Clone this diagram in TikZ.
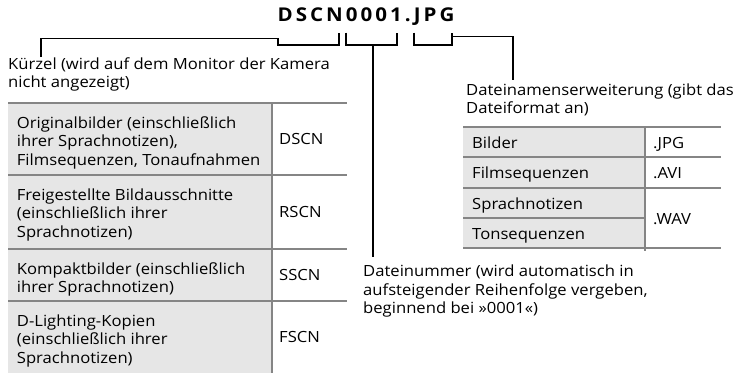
\documentclass[tikz,border=0pt]{standalone}
\usepackage{fontspec}
\setmainfont{Open Sans}[FakeStretch=1.08]
\newcommand\mylines[1]{\vtop{\baselineskip=18.5pt\lineskiplimit=-20pt\lineskip=0pt\halign{##\hfil\cr#1\crcr}}}
\definecolor{cellgray}{HTML}{E6E6E6}
\definecolor{rulegray}{HTML}{858585}
\begin{document}
\begin{tikzpicture}[x=1pt,y=-1pt,
  txt/.style={anchor=base west, inner sep=0pt, font=\fontsize{15.4}{18.5}\selectfont},
  celltxt/.style={txt},
  conn/.style={draw=black, line width=1.4pt},
  hrule/.style={draw=rulegray, line width=2.6pt},
  vrule/.style={draw=rulegray, line width=2pt},
  cellfill/.style={fill=cellgray, draw=none}]
\useasboundingbox (0,0) rectangle (737,373);

% title
\node[anchor=base, inner sep=0pt, font=\fontsize{19}{20}\selectfont\bfseries\addfontfeatures{LetterSpace=16}] (title) at (366,21.7) {DSCN0001.JPG};

% bracket points
\coordinate (kz) at (41,57);
\coordinate (kzc) at (41,38.5);
\coordinate (b1a) at (278,38.5);
\coordinate (b1b) at (278,45);
\coordinate (b1c) at (339,45);
\coordinate (b1d) at (339,32.7);
\coordinate (b2a) at (346,32.7);
\coordinate (b2b) at (346,45);
\coordinate (b2c) at (397,45);
\coordinate (b2d) at (397,32.7);
\coordinate (b2m) at (373,45);
\coordinate (dn) at (373,256.7);
\coordinate (b3a) at (414,32.7);
\coordinate (b3b) at (414,45);
\coordinate (b3c) at (452,45);
\coordinate (b3d) at (452,32.7);
\coordinate (b3m) at (452,36.7);
\coordinate (b3e) at (513,36.7);
\coordinate (de) at (513,80);

\draw[conn] (kz) -- (kzc) -- (b1a) -- (b1b) -- (b1c) -- (b1d);
\draw[conn] (b2a) -- (b2b) -- (b2c) -- (b2d);
\draw[conn] (b2m) -- (dn);
\draw[conn] (b3a) -- (b3b) -- (b3c) -- (b3d);
\draw[conn] (b3m) -- (b3e) -- (de);

% labels
\node[txt] (kurz) at (8,69) {\mylines{Kürzel (wird auf dem Monitor der Kamera\cr nicht angezeigt)}};
\node[txt] (ext) at (466,95) {\mylines{Dateinamenserweiterung (gibt das\cr Dateiformat an)}};
\node[txt] (num) at (363,276.7) {\mylines{Dateinummer (wird automatisch in\cr aufsteigender Reihenfolge vergeben,\cr beginnend bei »0001«)}};

% left table
\fill[cellfill] (8,103) rectangle (271,373);
\draw[hrule] (8,103) -- (347,103);
\draw[hrule] (8,175) -- (347,175);
\draw[hrule] (8,249) -- (347,249);
\draw[hrule] (8,301) -- (347,301);
\draw[vrule] (271.5,102) -- (271.5,373);
\node[celltxt] (l1) at (16.7,128) {\mylines{Originalbilder (einschließlich\cr ihrer Sprachnotizen),\cr Filmsequenzen, Tonaufnahmen}};
\node[celltxt] (l1b) at (279,144.5) {DSCN};
\node[celltxt] (l2) at (16.7,200) {\mylines{Freigestellte Bildausschnitte\cr (einschließlich ihrer\cr Sprachnotizen)}};
\node[celltxt] (l2b) at (279,217.5) {RSCN};
\node[celltxt] (l3) at (16.7,274) {\mylines{Kompaktbilder (einschließlich\cr ihrer Sprachnotizen)}};
\node[celltxt] (l3b) at (279,280.5) {SSCN};
\node[celltxt] (l4) at (16.7,326) {\mylines{D-Lighting-Kopien\cr (einschließlich ihrer\cr Sprachnotizen)}};
\node[celltxt] (l4b) at (279,342.5) {FSCN};

% right table
\fill[cellfill] (463,127) rectangle (645,248);
\draw[hrule] (463,127) -- (721,127);
\draw[hrule] (463,157) -- (721,157);
\draw[hrule] (463,188) -- (721,188);
\draw[hrule] (463,218) -- (645,218);
\draw[hrule] (463,248) -- (721,248);
\draw[vrule] (645,126) -- (645,251);
\node[celltxt] (r1) at (472,148) {Bilder};
\node[celltxt] (r1b) at (653,148) {.JPG};
\node[celltxt] (r2) at (472,178) {Filmsequenzen};
\node[celltxt] (r2b) at (653,178) {.AVI};
\node[celltxt] (r3) at (472,209) {Sprachnotizen};
\node[celltxt] (r4) at (472,239) {Tonsequenzen};
\node[celltxt] (r3b) at (653,224) {.WAV};
\end{tikzpicture}
\end{document}
